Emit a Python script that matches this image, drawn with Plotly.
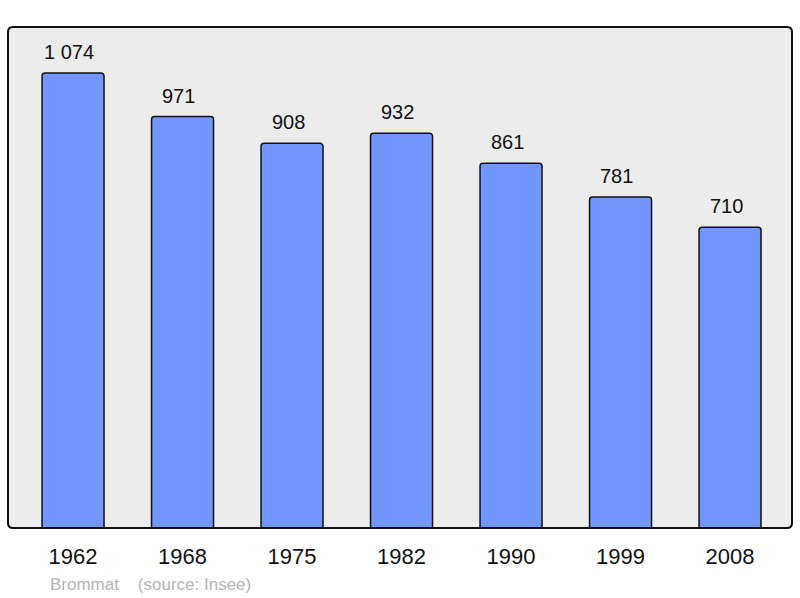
import plotly.graph_objects as go

years = ["1962", "1968", "1975", "1982", "1990", "1999", "2008"]
population = [1074, 971, 908, 932, 861, 781, 710]
source_text = "Brommat    (source: Insee)"

labels = [f"{v:,}".replace(",", " ") for v in population]
xpos = list(range(len(years)))
FONT = "Liberation Sans, Arial, sans-serif"

fig = go.Figure()
fig.add_trace(go.Bar(
    x=xpos, y=population, width=0.566,
    marker=dict(color="#7196ff", line=dict(color="#111111", width=1.5), cornerradius=3),
    hoverinfo="skip",
))
for i, (v, t) in enumerate(zip(population, labels)):
    fig.add_annotation(x=i, y=v, text=t, showarrow=False, yshift=21, xshift=-4,
                       font=dict(size=20, color="#111111", family=FONT))

fig.add_annotation(xref="paper", yref="paper", x=(48 - 8) / 784, y=(528 - 584) / 501,
                   xanchor="left", yanchor="middle", text=source_text, showarrow=False,
                   font=dict(size=17, color="#b4b4b4", family=FONT))

# rounded frame
rx, ry = 5 / 784, 5 / 501
path = (f"M {rx},0 L {1-rx},0 Q 1,0 1,{ry} L 1,{1-ry} Q 1,1 {1-rx},1 "
        f"L {rx},1 Q 0,1 0,{1-ry} L 0,{ry} Q 0,0 {rx},0 Z")
fig.add_shape(type="path", xref="paper", yref="paper", layer="below",
              path=path, fillcolor="#ececec", line=dict(width=0))
fig.add_shape(type="path", xref="paper", yref="paper", layer="above",
              path=path, line=dict(color="#111111", width=2))

fig.update_layout(
    width=800, height=598,
    margin=dict(l=8, r=8, t=27, b=70),
    paper_bgcolor="white", plot_bgcolor="rgba(0,0,0,0)",
    showlegend=False,
    font=dict(family=FONT, color="#111111"),
    xaxis=dict(range=[-0.594, 6.566], tickmode="array", tickvals=xpos, ticktext=years,
               showgrid=False, zeroline=False, tickfont=dict(size=22, color="#111111"),
               ticks="", ticklabelstandoff=13, fixedrange=True),
    yaxis=dict(range=[0, 1182.5], showgrid=False, zeroline=False, showticklabels=False,
               ticks="", fixedrange=True),
)

fig.write_html("out.html", config={"displayModeBar": False},
               post_script="document.body.style.margin='0';")
